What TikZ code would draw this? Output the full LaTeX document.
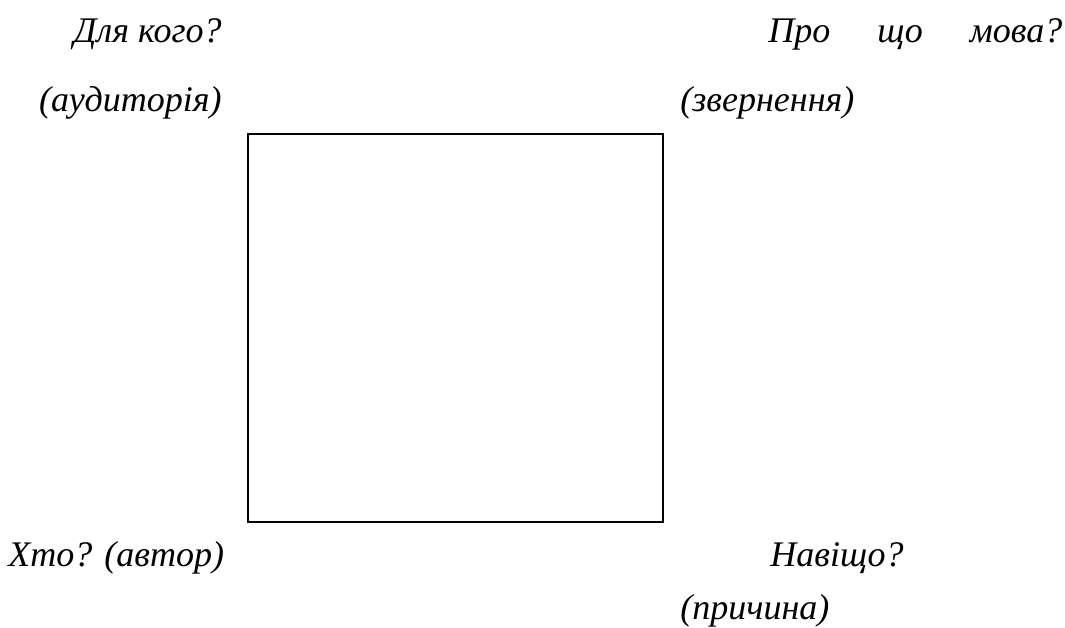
\documentclass[tikz,border=0pt]{standalone}
\usepackage{fontspec}
\setmainfont{Liberation Serif}
\usetikzlibrary{positioning}

\begin{document}
\begin{tikzpicture}[
  x=0.02cm, y=-0.02cm,
  frame/.style={draw, line width=1pt},
  label/.style={font=\itshape\fontsize{20.5}{24}\selectfont, inner sep=0pt}
]
  \useasboundingbox (0,0) rectangle (1065,627);

  \node[frame, minimum width=8.3cm, minimum height=7.76cm, anchor=north west] (box) at (247,133) {};

  \node[label, anchor=base east] (whom) at (222,42) {Для кого?};
  \node[label, anchor=base east] (aud) at (222,111) {(аудиторія)};

  \node[label, anchor=base west] (what) at (768,42) {\makebox[5.88cm][s]{Про що мова?}};
  \node[label, anchor=base west] (appeal) at (680,111) {(звернення)};

  \node[label, anchor=base west] (who) at (8,566) {Хто? (автор)};
  \node[label, anchor=base west] (why) at (770,566) {Навіщо?};
  \node[label, anchor=base west] (reason) at (680,619) {(причина)};
\end{tikzpicture}
\end{document}
